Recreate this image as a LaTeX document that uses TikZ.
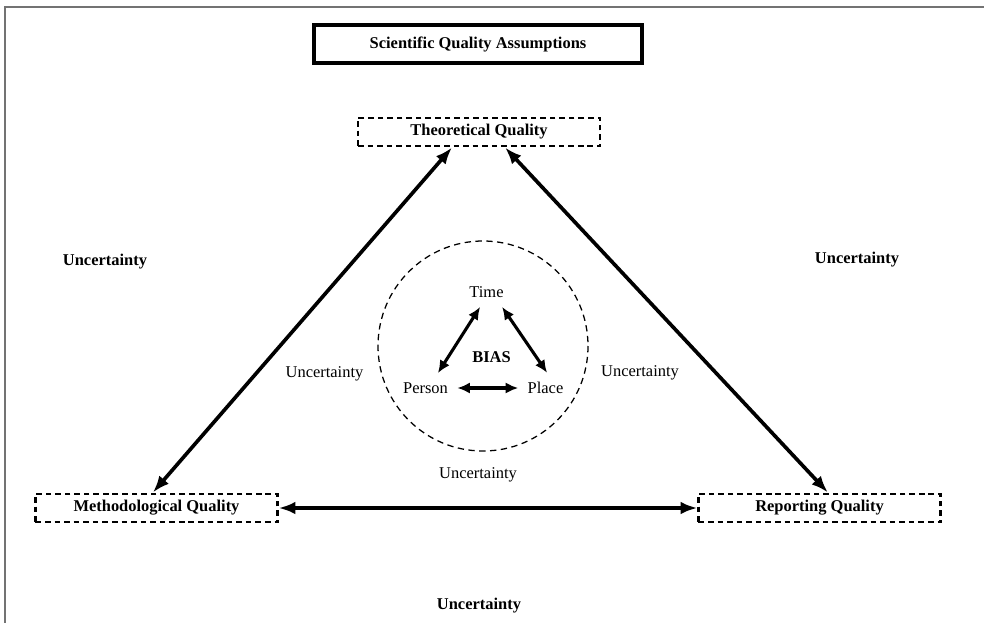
\documentclass[tikz,border=0pt]{standalone}
\usepackage{fontspec}
\setmainfont{Liberation Serif}
\usetikzlibrary{
  arrows.meta,
  positioning
}
\tikzset{>={Latex[length=12pt,width=9pt]}}
\tikzset{font=\fontsize{11.7}{14}\selectfont}
\tikzset{
  qualitybox/.style={draw, dash pattern=on 4pt off 2.8pt, line width=1.5pt,
    minimum width=6.05cm, minimum height=0.72cm, inner sep=0pt,
    font=\fontsize{11.7}{14}\selectfont\bfseries},
  titlebox/.style={draw, line width=3pt, minimum width=8.2cm,
    minimum height=0.95cm, font=\fontsize{11.7}{14}\selectfont\bfseries},
  uncbold/.style={font=\fontsize{11.7}{14}\selectfont\bfseries},
  biasnode/.style={inner sep=6.5pt},
  bigarrow/.style={<->, line width=2.6pt},
  smallarrow/.style={<->, line width=2.2pt, >={Latex[length=9pt,width=8pt]}},
}

\begin{document}
\begin{tikzpicture}[x=0.025cm, y=-0.025cm]
  \useasboundingbox (0,0) rectangle (984,623);
  % frame
  \draw[line width=1.4pt, black!55] (5,623) -- (5,7) -- (984,7);

  \node[titlebox] (title) at (478,44) {Scientific Quality Assumptions};

  \node[qualitybox] (theo) at (479,132) {Theoretical Quality};
  \node[qualitybox] (meth) at (156.5,508) {Methodological Quality};
  \node[qualitybox] (rep) at (819.5,508) {Reporting Quality};

  \draw[bigarrow] ([xshift=-0.675cm]theo.south) -- ([xshift=-0.09cm]meth.north);
  \draw[bigarrow] ([xshift=0.65cm]theo.south) -- ([xshift=0.21cm]rep.north);
  \draw[bigarrow] (meth.east) -- (rep.west);

  % bias circle
  \draw[dash pattern=on 4.5pt off 3.2pt, line width=0.9pt] (483,346) circle (105);
  \node[biasnode] (time) at (486.5,292) {Time};
  \node[biasnode] (person) at (425.5,388) {Person};
  \node[biasnode] (place) at (545.5,388) {Place};
  \node[uncbold] (bias) at (491.5,357) {BIAS};

  \draw[smallarrow] ([xshift=-0.16cm]time.south) -- ([xshift=0.31cm]person.north);
  \draw[smallarrow] ([xshift=0.39cm]time.south) -- ([xshift=0.04cm]place.north);
  \draw[smallarrow] (person) -- (place);

  % uncertainty labels
  \node[uncbold] (uncleft) at (105,262) {Uncertainty};
  \node[uncbold] (uncright) at (857,260) {Uncertainty};
  \node[uncbold] (uncbottom) at (479,606) {Uncertainty};
  \node (uncinleft) at (324.5,374) {Uncertainty};
  \node (uncinright) at (640,373) {Uncertainty};
  \node (uncinbottom) at (478,475) {Uncertainty};
\end{tikzpicture}
\end{document}
